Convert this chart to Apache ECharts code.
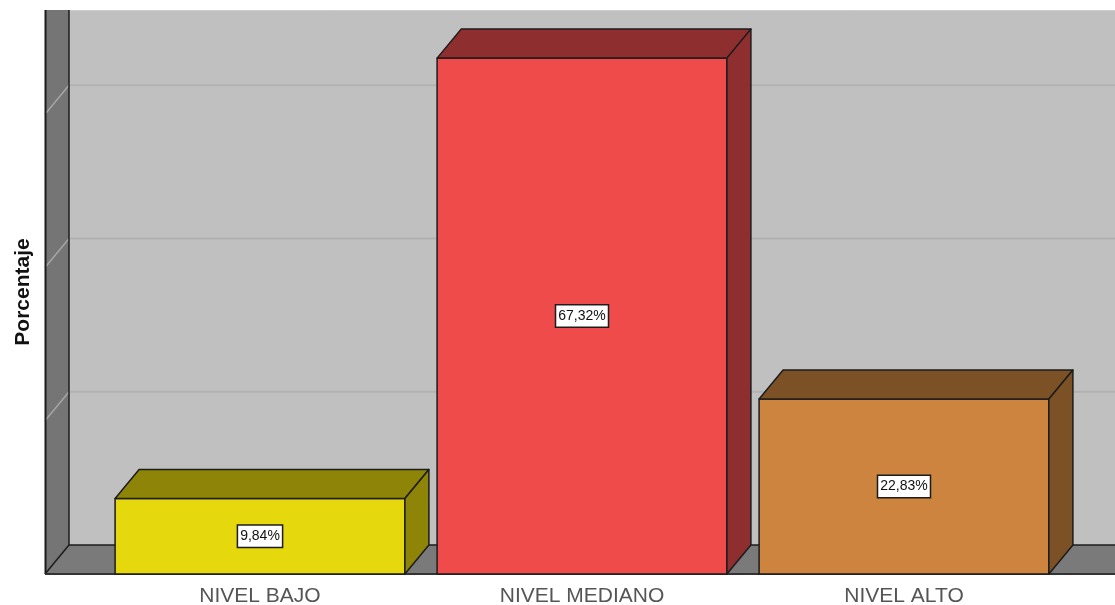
<!DOCTYPE html>
<html>
<head>
<meta charset="utf-8">
<style>html,body{margin:0;padding:0;background:#fff}#c{width:1115px;height:605px}</style>
<script src="https://cdn.jsdelivr.net/npm/echarts@6/dist/echarts.min.js"></script>
</head>
<body>
<div id="c"></div>
<script>
const categories = ['NIVEL BAJO', 'NIVEL MEDIANO', 'NIVEL ALTO'];
const percentages = [9.84, 67.32, 22.83];
const gridTicks = [20, 40, 60];
const frontColors = ['#E5D90D', '#EF4B4B', '#CC843E'];
const sideColors = ['#8E8407', '#8F2E2E', '#7C5126'];

const DX = 24, DY = 29, LEFT = 45, EDGE = '#1c1c1c';
const chart = echarts.init(document.getElementById('c'), null, {renderer: 'canvas'});

function poly(points, fill, stroke, lw) {
  return {type: 'polygon', shape: {points}, style: {fill, stroke: stroke || null, lineWidth: lw || 0, lineJoin: 'round'}};
}
function line(x1, y1, x2, y2, stroke, lw) {
  return {type: 'line', shape: {x1, y1, x2, y2}, style: {stroke, lineWidth: lw || 1}};
}

function renderWalls(params, api) {
  const cs = params.coordSys;
  const base = api.coord([0, 0])[1];
  const top = cs.y, right = cs.x + cs.width + 50;
  const kids = [
    poly([[LEFT + DX, top], [right, top], [right, base - DY], [LEFT + DX, base - DY]], '#C0C0C0'),
    line(LEFT + DX, top + 0.5, right, top + 0.5, '#CDCDCD', 1),
    poly([[LEFT, top], [LEFT + DX, top], [LEFT + DX, base - DY], [LEFT, base]], '#757575'),
    poly([[LEFT, base], [LEFT + DX, base - DY], [right, base - DY], [right, base]], '#7A7A7A')
  ];
  gridTicks.forEach(v => {
    const y = api.coord([0, v])[1];
    kids.push(line(LEFT + DX, y - DY, right, y - DY, '#B2B2B2', 2));
    kids.push(line(LEFT, y, LEFT + DX, y - DY, '#A6A6A6', 1.5));
  });
  kids.push(line(LEFT + 0.5, top, LEFT + 0.5, base, EDGE, 2));
  kids.push(line(LEFT + DX, top, LEFT + DX, base - DY, EDGE, 1.5));
  kids.push(line(LEFT + DX, base - DY, right, base - DY, EDGE, 1.5));
  kids.push(line(LEFT, base, LEFT + DX, base - DY, EDGE, 1.5));
  kids.push(line(LEFT, base, right, base, '#333', 2));
  return {type: 'group', children: kids};
}

function renderBar(params, api) {
  const i = api.value(0), v = api.value(1);
  const c = api.coord([i, v]), b = api.coord([i, 0]);
  const w = api.size([1, 0])[0] * 0.9;
  const l = c[0] - w / 2, r = c[0] + w / 2, t = c[1], y0 = b[1];
  return {
    type: 'group',
    children: [
      poly([[l, t], [r, t], [r, y0], [l, y0]], frontColors[i], EDGE, 1.5),
      poly([[l, t], [l + DX, t - DY], [r + DX, t - DY], [r, t]], sideColors[i], EDGE, 1.5),
      poly([[r, t], [r + DX, t - DY], [r + DX, y0 - DY], [r, y0]], sideColors[i], EDGE, 1.5),
      {
        type: 'text',
        x: c[0], y: (t + y0) / 2,
        style: {
          text: v.toFixed(2).replace('.', ',') + '%',
          x: 0, y: 0,
          align: 'center', verticalAlign: 'middle',
          font: '14px "Liberation Sans", Arial, sans-serif',
          fill: '#111',
          backgroundColor: '#fff',
          borderColor: '#1c1c1c', borderWidth: 1.5,
          padding: [4, 2, 3, 2]
        }
      }
    ]
  };
}

chart.setOption({
  animation: false,
  backgroundColor: '#fff',
  grid: {left: 99, right: 50, top: 10, bottom: 31, outerBoundsMode: 'none'},
  xAxis: {
    type: 'category',
    data: categories,
    axisLine: {show: false},
    axisTick: {show: false},
    splitLine: {show: false},
    axisLabel: {color: '#555', fontSize: 21, fontFamily: '"Liberation Sans", Arial, sans-serif', margin: 12}
  },
  yAxis: {
    type: 'value',
    min: 0, max: 73.6, interval: 20,
    name: 'Porcentaje',
    nameLocation: 'middle',
    nameGap: 65,
    nameRotate: 90,
    nameTextStyle: {color: '#111', fontSize: 21, fontWeight: 'bold', fontFamily: '"Liberation Sans", Arial, sans-serif'},
    axisLine: {show: false},
    axisTick: {show: false},
    axisLabel: {show: false},
    splitLine: {show: false}
  },
  series: [
    {type: 'custom', silent: true, clip: false, z: 1, renderItem: renderWalls, data: [[0, 0]], encode: {x: 0, y: 1}},
    {type: 'custom', silent: true, clip: false, z: 2, renderItem: renderBar,
      data: percentages.map((v, i) => [i, v]), encode: {x: 0, y: 1}}
  ]
});
</script>
</body>
</html>
